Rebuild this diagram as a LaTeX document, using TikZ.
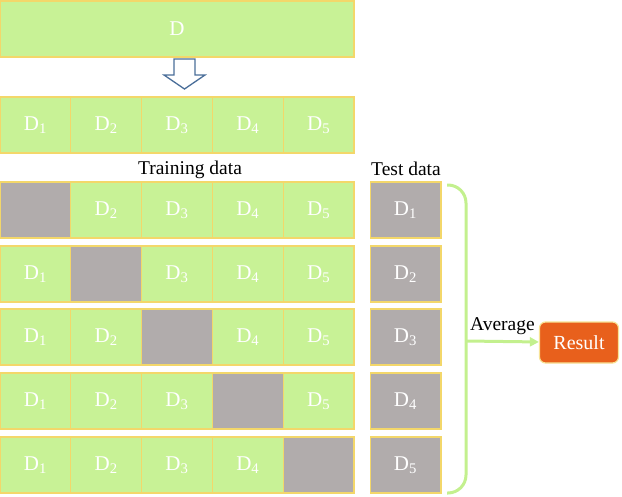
\documentclass[tikz,border=0pt]{standalone}
\usepackage{fontspec}
\setmainfont{Liberation Serif}
\usetikzlibrary{arrows.meta}
\definecolor{cellGreen}{HTML}{C8F296}
\definecolor{cellEdge}{HTML}{F3D76A}
\definecolor{holdGray}{HTML}{B1ACAC}
\definecolor{resOrange}{HTML}{E8601C}
\definecolor{braceGreen}{HTML}{C3F08E}
\definecolor{arrowBlue}{HTML}{4A6E99}
\begin{document}
\begin{tikzpicture}[x=1pt, y=-1pt,
    cellStyle/.style={rectangle, draw=cellEdge, line width=1.2pt, fill=cellGreen, text=white,
        minimum width=70.8pt, minimum height=56pt, inner sep=0pt, font=\rmfamily\fontsize{21}{24}\selectfont},
    holdStyle/.style={cellStyle, fill=holdGray},
    labelStyle/.style={font=\rmfamily\fontsize{19.5}{23}\selectfont},
    resultStyle/.style={rectangle, rounded corners=6pt, draw=cellEdge!70!white, line width=1.2pt,
        fill=resOrange, text=white, minimum width=79pt, minimum height=41pt, font=\rmfamily\fontsize{20}{24}\selectfont}]
    \useasboundingbox (0,0) rectangle (622,496);

    % whole data set
    \node[cellStyle, minimum width=354pt](d) at (177, 29) {D};
    \draw[arrowBlue, line width=1.3pt, fill=white, line join=miter]
        (174,59) -- (195,59) -- (195,75) -- (205,75) -- (184.5,89) -- (164,75) -- (174,75) -- cycle;

    % split into five parts
    \node[cellStyle](p1) at ( 35.4, 125) {D\textsubscript{1}};
    \node[cellStyle](p2) at (106.2, 125) {D\textsubscript{2}};
    \node[cellStyle](p3) at (177.0, 125) {D\textsubscript{3}};
    \node[cellStyle](p4) at (247.8, 125) {D\textsubscript{4}};
    \node[cellStyle](p5) at (318.6, 125) {D\textsubscript{5}};

    \node[labelStyle](train) at (190, 170) {Training data};
    \node[labelStyle](test) at (406, 169) {Test data};

    % fold 1
    \node[holdStyle](r11) at ( 35.4, 210) {};
    \node[cellStyle](r12) at (106.2, 210) {D\textsubscript{2}};
    \node[cellStyle](r13) at (177.0, 210) {D\textsubscript{3}};
    \node[cellStyle](r14) at (247.8, 210) {D\textsubscript{4}};
    \node[cellStyle](r15) at (318.6, 210) {D\textsubscript{5}};
    % fold 2
    \node[cellStyle](r21) at ( 35.4, 274) {D\textsubscript{1}};
    \node[holdStyle](r22) at (106.2, 274) {};
    \node[cellStyle](r23) at (177.0, 274) {D\textsubscript{3}};
    \node[cellStyle](r24) at (247.8, 274) {D\textsubscript{4}};
    \node[cellStyle](r25) at (318.6, 274) {D\textsubscript{5}};
    % fold 3
    \node[cellStyle](r31) at ( 35.4, 337) {D\textsubscript{1}};
    \node[cellStyle](r32) at (106.2, 337) {D\textsubscript{2}};
    \node[holdStyle](r33) at (177.0, 337) {};
    \node[cellStyle](r34) at (247.8, 337) {D\textsubscript{4}};
    \node[cellStyle](r35) at (318.6, 337) {D\textsubscript{5}};
    % fold 4
    \node[cellStyle](r41) at ( 35.4, 401) {D\textsubscript{1}};
    \node[cellStyle](r42) at (106.2, 401) {D\textsubscript{2}};
    \node[cellStyle](r43) at (177.0, 401) {D\textsubscript{3}};
    \node[holdStyle](r44) at (247.8, 401) {};
    \node[cellStyle](r45) at (318.6, 401) {D\textsubscript{5}};
    % fold 5
    \node[cellStyle](r51) at ( 35.4, 465) {D\textsubscript{1}};
    \node[cellStyle](r52) at (106.2, 465) {D\textsubscript{2}};
    \node[cellStyle](r53) at (177.0, 465) {D\textsubscript{3}};
    \node[cellStyle](r54) at (247.8, 465) {D\textsubscript{4}};
    \node[holdStyle](r55) at (318.6, 465) {};

    % test parts
    \node[holdStyle](t1) at (405.5, 210) {D\textsubscript{1}};
    \node[holdStyle](t2) at (405.5, 274) {D\textsubscript{2}};
    \node[holdStyle](t3) at (405.5, 337) {D\textsubscript{3}};
    \node[holdStyle](t4) at (405.5, 401) {D\textsubscript{4}};
    \node[holdStyle](t5) at (405.5, 465) {D\textsubscript{5}};

    \node[resultStyle](res) at (579, 342.5) {Result};

    \coordinate(b1) at (447, 185);
    \coordinate(bm) at (466, 341);
    \coordinate(b5) at (447, 493);

    \draw[braceGreen, line width=3pt, rounded corners=18pt] (b1) -| (bm) |- (b5);
    \draw[braceGreen, line width=3pt, -{Triangle[length=9pt, width=9pt]}] (bm) -- (res)
        node[midway, above, labelStyle, text=black, yshift=2pt] {Average};
\end{tikzpicture}
\end{document}
